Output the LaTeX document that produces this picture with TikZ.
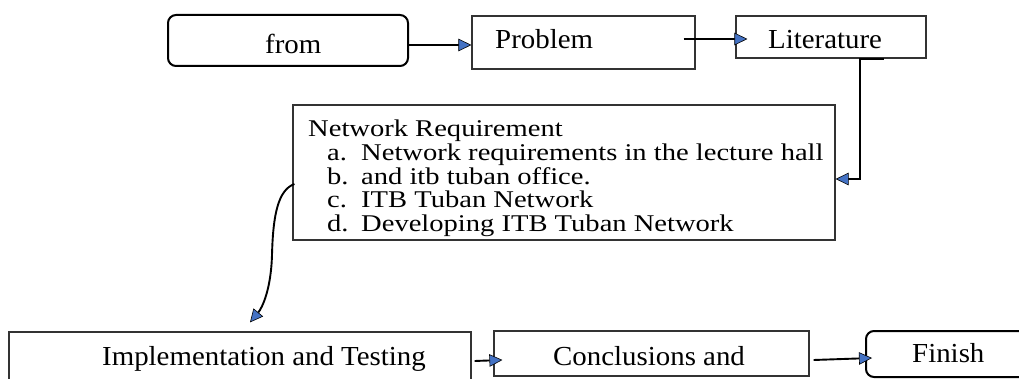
\documentclass[tikz,border=0pt]{standalone}
\usepackage{fontspec}
\setmainfont{Liberation Serif}[FakeStretch=1.05]
\newfontfamily\listfont{Liberation Serif}[FakeStretch=1.19]
\usetikzlibrary{arrows.meta,calc}
\definecolor{tipblue}{HTML}{4472C4}
\definecolor{edgegray}{HTML}{333333}

\begin{document}
\begin{tikzpicture}[x=1pt,y=-1pt,
  box/.style={draw=edgegray,line width=1.2pt,inner sep=0pt},
  terminal/.style={draw=black,line width=2pt,rounded corners=8pt,inner sep=0pt},
  label/.style={anchor=base west,inner sep=0pt,font=\fontsize{27.5}{32}\selectfont},
  listtxt/.style={anchor=base west,inner sep=0pt,font=\listfont\fontsize{24}{25}\selectfont},
  conn/.style={draw=black,line width=1.9pt,
    -{Triangle[length=13pt,width=12.5pt,fill=tipblue,line width=0.6pt]}}]

\useasboundingbox (0,0) rectangle (1019,379);
\fill[white] (0,0) rectangle (1019,379);
\clip (0,0) rectangle (1019,379);

% process boxes
\node[terminal,minimum width=240,minimum height=51] (from) at (288,40.5) {};
\node[box,minimum width=223,minimum height=53] (prob) at (583.5,42.5) {};
\node[box,minimum width=190,minimum height=42] (lit) at (831,37) {};
\node[box,minimum width=542,minimum height=135] (net) at (564,172.5) {};
\node[box,minimum width=462,minimum height=68] (impl) at (240,366) {};
\node[box,minimum width=315,minimum height=45] (conc) at (651.5,353.5) {};
\node[terminal,minimum width=174,minimum height=46] (fin) at (953,354) {};

% box captions
\node[label] (fromt) at (265,54) {from};
\node[label] (probt) at (495,49) {Problem};
\node[label] (litt) at (768,49) {Literature};
\node[label] (implt) at (102,365) {Implementation and Testing};
\node[label] (conct) at (553,365) {Conclusions and};
\node[label] (fint) at (912,362) {Finish};

% requirement list
\node[listtxt] (nett) at (308,137) {Network Requirement};
\node[listtxt] (la) at (327,161) {a.};
\node[listtxt] (ia) at (361,161) {Network requirements in the lecture hall};
\node[listtxt] (lb) at (327,185) {b.};
\node[listtxt] (ib) at (361,185) {and itb tuban office.};
\node[listtxt] (lc) at (327,208) {c.};
\node[listtxt] (ic) at (361,208) {ITB Tuban Network};
\node[listtxt] (ld) at (327,232) {d.};
\node[listtxt] (id) at (361,232) {Developing ITB Tuban Network};

% connectors
\draw[conn] ($(from.east)+(0,4.5)$) -- ($(prob.west)+(0,2.5)$);
\draw[conn] ($(prob.east)+(-12,-3.5)$) -- ($(lit.west)+(12,2)$);
\draw[conn] ($(lit.south east)+(-43,0)$) -- ++(-24,0) |- ($(net.east)+(0,6.5)$);
\coordinate (dip) at (272,255);
\draw[conn] ($(net.west)+(2,11.5)$) .. controls (278,190) and (273,215) .. (dip)
  .. controls (271,290) and (262,308) .. ($(impl.north)+(10,-9)$);
\draw[conn] ($(impl.east)+(3,-5)$) -- ($(conc.west)+(9,6.5)$);
\draw[conn] ($(conc.east)+(4,6.5)$) -- ($(fin.west)+(7,4)$);
\end{tikzpicture}
\end{document}
